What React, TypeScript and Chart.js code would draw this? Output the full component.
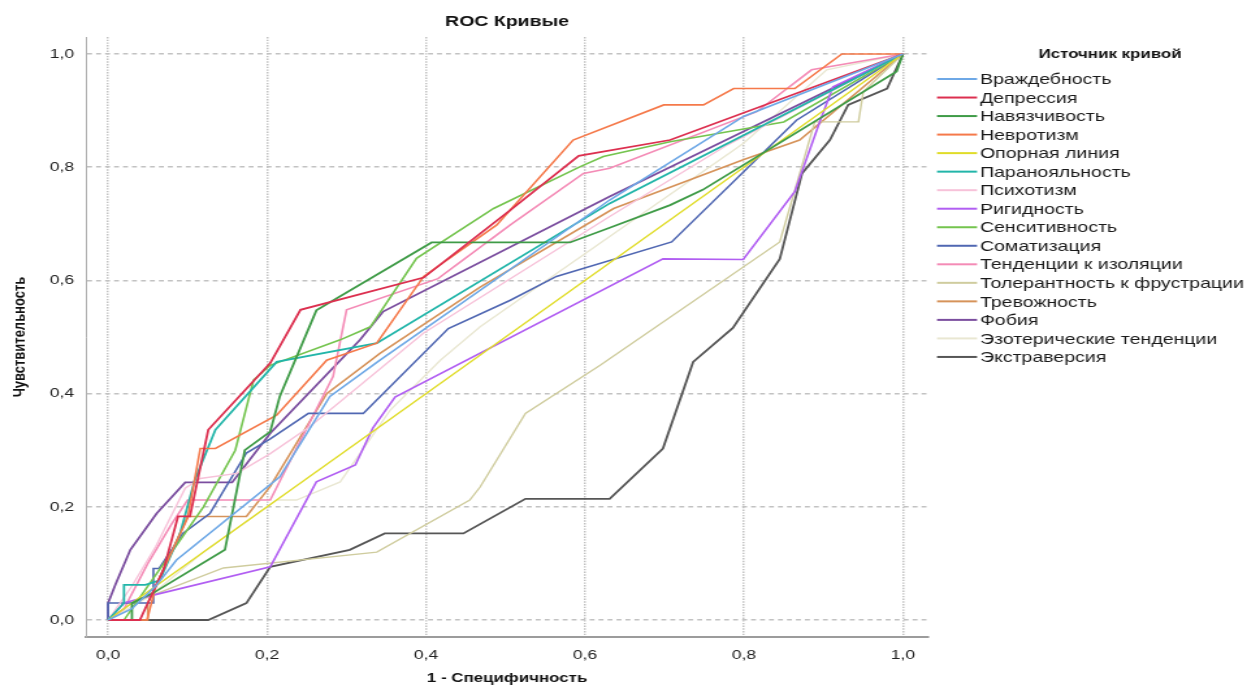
import React, { useEffect, useRef } from "react";
import { Chart, registerables } from "chart.js";

Chart.register(...registerables);

type P = [number, number];

// ---- Data (1 - specificity, sensitivity) ----
const seriesNames = [
  "Враждебность",
  "Депрессия",
  "Навязчивость",
  "Невротизм",
  "Опорная линия",
  "Паранояльность",
  "Психотизм",
  "Ригидность",
  "Сенситивность",
  "Соматизация",
  "Тенденции к изоляции",
  "Толерантность к фрустрации",
  "Тревожность",
  "Фобия",
  "Эзотерические тенденции",
  "Экстраверсия",
];

const vrazhdebnost: P[] = [[0, 0], [0.03, 0.02], [0.06, 0.06], [0.086, 0.106], [0.216, 0.253], [0.279, 0.395], [0.342, 0.459], [0.631, 0.742], [0.8, 0.89], [1, 1]];
const depressiya: P[] = [[0, 0], [0.04, 0], [0.05, 0.03], [0.07, 0.09], [0.088, 0.183], [0.103, 0.183], [0.126, 0.336], [0.204, 0.454], [0.242, 0.548], [0.397, 0.605], [0.506, 0.724], [0.592, 0.82], [0.707, 0.848], [1, 1]];
const navyazchivost: P[] = [[0, 0], [0.03, 0], [0.03, 0.03], [0.057, 0.048], [0.147, 0.124], [0.172, 0.3], [0.204, 0.333], [0.216, 0.395], [0.262, 0.547], [0.407, 0.667], [0.581, 0.667], [0.631, 0.693], [0.707, 0.733], [0.748, 0.76], [0.992, 0.969], [1, 1]];
const nevrotizm: P[] = [[0, 0], [0.049, 0], [0.06, 0.06], [0.1, 0.18], [0.116, 0.303], [0.135, 0.303], [0.212, 0.362], [0.275, 0.459], [0.338, 0.489], [0.397, 0.607], [0.489, 0.698], [0.585, 0.848], [0.699, 0.91], [0.749, 0.91], [0.787, 0.939], [0.864, 0.939], [0.923, 1], [1, 1]];
const opornaya: P[] = [[0, 0], [1, 1]];
const paranoyalnost: P[] = [[0, 0], [0.02, 0.03], [0.02, 0.062], [0.047, 0.062], [0.065, 0.07], [0.09, 0.15], [0.109, 0.247], [0.135, 0.336], [0.212, 0.456], [0.338, 0.489], [0.631, 0.736], [1, 1]];
const psihotizm: P[] = [[0, 0], [0.03, 0.06], [0.06, 0.13], [0.097, 0.233], [0.116, 0.25], [0.162, 0.259], [0.204, 0.294], [0.254, 0.342], [0.397, 0.507], [0.631, 0.713], [0.78, 0.84], [1, 1]];
const rigidnost: P[] = [[0, 0], [0.02, 0.03], [0.057, 0.044], [0.204, 0.094], [0.262, 0.244], [0.311, 0.274], [0.333, 0.339], [0.361, 0.394], [0.698, 0.638], [0.799, 0.637], [0.864, 0.757], [0.896, 0.883], [0.912, 0.942], [1, 1]];
const sensitivnost: P[] = [[0, 0], [0.02, 0], [0.05, 0.06], [0.12, 0.2], [0.16, 0.3], [0.183, 0.424], [0.204, 0.45], [0.292, 0.495], [0.33, 0.518], [0.388, 0.639], [0.485, 0.727], [0.594, 0.801], [0.623, 0.819], [0.707, 0.845], [0.85, 0.88], [1, 1]];
const somatizaciya: P[] = [[0, 0], [0, 0.03], [0.057, 0.03], [0.057, 0.091], [0.064, 0.091], [0.094, 0.153], [0.128, 0.188], [0.174, 0.295], [0.204, 0.32], [0.252, 0.365], [0.321, 0.365], [0.428, 0.515], [0.506, 0.565], [0.564, 0.607], [0.709, 0.668], [0.866, 0.883], [1, 1]];
const izolyaciya: P[] = [[0, 0], [0.02, 0.02], [0.05, 0.1], [0.08, 0.17], [0.1, 0.212], [0.204, 0.212], [0.283, 0.43], [0.3, 0.548], [0.415, 0.603], [0.506, 0.698], [0.598, 0.789], [0.631, 0.798], [0.816, 0.898], [0.885, 0.972], [1, 1]];
const tolerantnost: P[] = [[0, 0], [0.03, 0.03], [0.145, 0.092], [0.338, 0.12], [0.455, 0.212], [0.468, 0.235], [0.525, 0.365], [0.619, 0.45], [0.845, 0.668], [0.889, 0.88], [0.944, 0.88], [0.95, 0.933], [1, 1]];
const trevozhnost: P[] = [[0, 0], [0.05, 0], [0.05, 0.03], [0.07, 0.09], [0.1, 0.183], [0.174, 0.183], [0.204, 0.236], [0.275, 0.4], [0.342, 0.471], [0.468, 0.588], [0.636, 0.727], [0.799, 0.813], [0.87, 0.848], [1, 1]];
const fobiya: P[] = [[0, 0], [0, 0.03], [0.009, 0.062], [0.028, 0.124], [0.061, 0.188], [0.097, 0.243], [0.156, 0.243], [0.204, 0.33], [0.317, 0.495], [0.346, 0.545], [0.631, 0.748], [1, 1]];
const ezotericheskie: P[] = [[0, 0], [0.05, 0.04], [0.12, 0.12], [0.212, 0.212], [0.237, 0.212], [0.292, 0.244], [0.355, 0.371], [0.418, 0.459], [0.468, 0.518], [0.799, 0.842], [0.904, 0.972], [1, 1]];
const ekstraversiya: P[] = [[0, 0], [0.126, 0], [0.174, 0.03], [0.204, 0.094], [0.304, 0.124], [0.348, 0.153], [0.447, 0.153], [0.525, 0.214], [0.631, 0.214], [0.698, 0.303], [0.736, 0.456], [0.786, 0.516], [0.845, 0.638], [0.873, 0.789], [0.908, 0.848], [0.931, 0.91], [0.98, 0.939], [1, 1]];

const seriesData: P[][] = [
  vrazhdebnost, depressiya, navyazchivost, nevrotizm, opornaya, paranoyalnost,
  psihotizm, rigidnost, sensitivnost, somatizaciya, izolyaciya, tolerantnost,
  trevozhnost, fobiya, ezotericheskie, ekstraversiya,
];

const seriesColors = [
  "#6ea8e6", "#dc2f4f", "#3f9b47", "#f5794a", "#e0dc28", "#22b5a9",
  "#f7c2d9", "#b15ef2", "#74c44e", "#5067b2", "#f48bb6", "#cfcc9e",
  "#d6935a", "#7b4e9f", "#e9e7d2", "#565656",
];

const seriesWidths = [1.6, 1.8, 1.8, 1.6, 1.4, 1.8, 1.4, 1.6, 1.6, 1.6, 1.6, 1.4, 1.6, 1.8, 1.4, 1.8];

const tickValues = [0, 0.2, 0.4, 0.6, 0.8, 1.0];
const tickLabels = ["0,0", "0,2", "0,4", "0,6", "0,8", "1,0"];

const titleText = "ROC Кривые";
const xTitle = "1 - Специфичность";
const yTitle = "Чувствительность";
const legendTitle = "Источник кривой";

// ---- Layout (canvas is drawn narrower and stretched horizontally like the reference) ----
const CW = 959;
const CH = 686;
const FONT = "'Liberation Sans', Arial, sans-serif";

const labelFor = (v: number) => {
  const i = tickValues.findIndex((t) => Math.abs(t - v) < 1e-9);
  return i >= 0 ? tickLabels[i] : "";
};

const legendPlugin = {
  id: "curveLegend",
  afterDraw(chart: any) {
    const ctx = chart.ctx;
    ctx.save();
    ctx.fillStyle = "#111";
    ctx.textBaseline = "middle";
    ctx.textAlign = "center";
    ctx.font = `bold 13px ${FONT}`;
    ctx.fillText(legendTitle, 853.7, 54);
    ctx.textAlign = "left";
    ctx.font = `15px ${FONT}`;
    chart.data.datasets.forEach((ds: any, i: number) => {
      const y = 79 + i * 18.53;
      ctx.strokeStyle = ds.borderColor;
      ctx.lineWidth = 2;
      ctx.beginPath();
      ctx.moveTo(720.6, y);
      ctx.lineTo(751.4, y);
      ctx.stroke();
      ctx.fillStyle = "#1a1a1a";
      ctx.fillText(ds.label, 753.7, y + 1);
    });
    ctx.restore();
  },
};

export default function App() {
  const canvasRef = useRef<HTMLCanvasElement | null>(null);

  useEffect(() => {
    if (!canvasRef.current) return;
    const datasets = seriesNames.map((name, i) => ({
      label: name,
      data: seriesData[i].map(([x, y]) => ({ x, y })),
      borderColor: seriesColors[i],
      backgroundColor: seriesColors[i],
      borderWidth: seriesWidths[i],
      pointRadius: 0,
      pointHoverRadius: 0,
      tension: 0,
      fill: false,
    }));

    const chart = new Chart(canvasRef.current, {
      type: "line",
      data: { datasets },
      options: {
        responsive: false,
        animation: false,
        devicePixelRatio: 1,
        parsing: true,
        layout: { padding: { left: 0, right: 245, top: 0, bottom: 0 } },
        plugins: {
          legend: { display: false },
          tooltip: { enabled: false },
          title: {
            display: true,
            text: titleText,
            fullSize: false,
            color: "#111",
            font: { family: FONT, size: 15, weight: "bold" },
            padding: { top: 13, bottom: 6 },
          },
        },
        scales: {
          x: {
            type: "linear",
            min: -0.028,
            max: 1.032,
            afterBuildTicks: (s: any) => {
              s.ticks = tickValues.map((v) => ({ value: v }));
            },
            afterFit: (s: any) => {
              s.height = 49;
            },
            ticks: {
              callback: (v: any) => labelFor(Number(v)),
              color: "#222",
              font: { family: FONT, size: 13.5 },
              padding: 10,
              maxRotation: 0,
              autoSkip: false,
            },
            grid: {
              color: "#c2c2c2",
              lineWidth: 1.5,
              drawTicks: false,
              borderDash: [1.4, 1.3],
            } as any,
            border: { display: true, color: "#9c9c9c", width: 2, dash: [1.4, 1.3] } as any,
            title: {
              display: true,
              text: xTitle,
              color: "#111",
              font: { family: FONT, size: 13, weight: "bold" },
              padding: { top: 0, bottom: 0 },
            },
          },
          y: {
            type: "linear",
            min: -0.03,
            max: 1.03,
            afterBuildTicks: (s: any) => {
              s.ticks = tickValues.map((v) => ({ value: v }));
            },
            afterFit: (s: any) => {
              s.width = 66;
            },
            ticks: {
              callback: (v: any) => labelFor(Number(v)),
              color: "#222",
              font: { family: FONT, size: 13.5 },
              padding: 9,
              autoSkip: false,
            },
            grid: {
              color: "#c2c2c2",
              lineWidth: 1.5,
              drawTicks: false,
              borderDash: [3.8, 3.1],
            } as any,
            border: { display: true, color: "#b0b0b0", width: 1, dash: [3.8, 3.1] } as any,
            title: {
              display: true,
              text: yTitle,
              color: "#111",
              font: { family: FONT, size: 13, weight: "bold" },
              padding: { top: 8, bottom: 0 },
            },
          },
        },
      } as any,
      plugins: [legendPlugin],
    });

    return () => {
      chart.destroy();
    };
  }, []);

  return (
    <div style={{ position: "fixed", left: 0, top: 0, width: 1247, height: 686, background: "#fff" }}>
      <canvas
        ref={canvasRef}
        width={CW}
        height={CH}
        style={{ width: "1247px", height: "686px", display: "block" }}
      />
    </div>
  );
}
